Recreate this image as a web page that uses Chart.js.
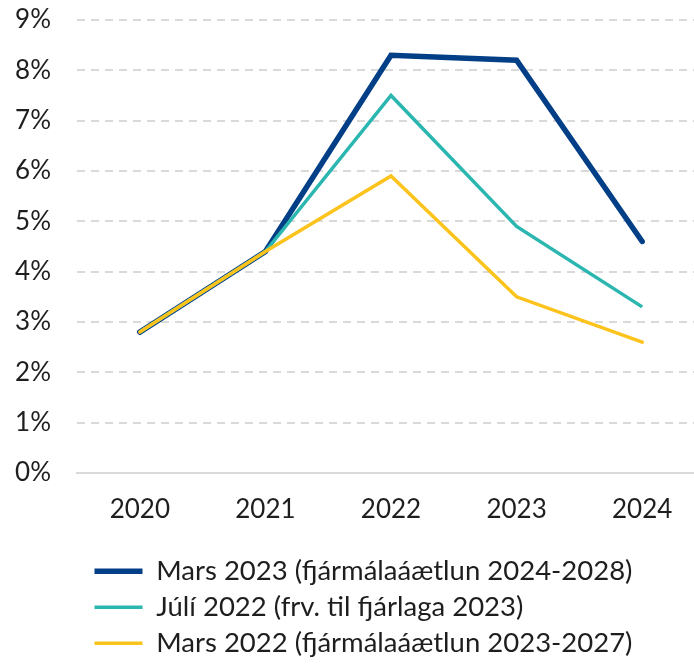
<!DOCTYPE html>
<html lang="is">
<head>
    <meta charset="UTF-8">
    <title>Verðbólguspár</title>
    <script src="https://cdn.jsdelivr.net/npm/chart.js"></script>
    <style>
        html, body {
            margin: 0;
            padding: 0;
            background: #fff;
            overflow: hidden;
        }
        #wrap {
            width: 705px;
            height: 664px;
        }
    </style>
</head>
<body>
    <div id="wrap">
        <canvas id="chart" width="705" height="664"></canvas>
    </div>
    <script>
        var years = ['2020', '2021', '2022', '2023', '2024'];
        var mars2023 = [2.8, 4.4, 8.3, 8.2, 4.6];
        var juli2022 = [2.8, 4.4, 7.5, 4.9, 3.3];
        var mars2022 = [2.8, 4.4, 5.9, 3.5, 2.6];
        var seriesNames = [
            'Mars 2023 (fjármálaáætlun 2024-2028)',
            'Júlí 2022 (frv. til fjárlaga 2023)',
            'Mars 2022 (fjármálaáætlun 2023-2027)'
        ];
        var yTicks = [0, 1, 2, 3, 4, 5, 6, 7, 8, 9];

        var fontFamily = 'Lato, "Open Sans", sans-serif';
        var textColor = '#1e1e1e';
        var gridColor = '#d9d9d9';

        // moves the legend block to where the original has it
        var legendShift = {
            id: 'legendShift',
            afterLayout: function (chart) {
                var lg = chart.legend;
                var h = lg.bottom - lg.top;
                lg.left = 86;
                lg.top += 3;
                lg.bottom = lg.top + h;
            }
        };

        var ctx = document.getElementById('chart').getContext('2d');
        var chart = new Chart(ctx, {
            type: 'line',
            data: {
                labels: years,
                datasets: [{
                    label: seriesNames[0],
                    data: mars2023,
                    borderColor: '#023f86',
                    backgroundColor: '#023f86',
                    borderWidth: 5.5,
                    borderCapStyle: 'round',
                    order: 3
                }, {
                    label: seriesNames[1],
                    data: juli2022,
                    borderColor: '#2bb6b0',
                    backgroundColor: '#2bb6b0',
                    borderWidth: 3.5,
                    order: 2
                }, {
                    label: seriesNames[2],
                    data: mars2022,
                    borderColor: '#fdc31d',
                    backgroundColor: '#fdc31d',
                    borderWidth: 3.5,
                    borderCapStyle: 'round',
                    order: 1
                }]
            },
            options: {
                responsive: false,
                animation: false,
                layout: {
                    padding: { left: 0, top: 20, right: 0, bottom: 0 }
                },
                elements: {
                    point: { radius: 0, hoverRadius: 0 },
                    line: { tension: 0 }
                },
                scales: {
                    x: {
                        offset: true,
                        grid: { display: false, drawTicks: false },
                        border: { display: true, color: gridColor, width: 2 },
                        ticks: {
                            color: textColor,
                            padding: 21,
                            font: { family: fontFamily, size: 26 }
                        },
                        afterFit: function (scale) {
                            scale.height = 73;
                        }
                    },
                    y: {
                        min: 0,
                        max: 9,
                        afterBuildTicks: function (scale) {
                            scale.ticks = yTicks.map(function (v) { return { value: v }; });
                        },
                        afterFit: function (scale) {
                            scale.width = 77;
                            scale.paddingTop = 0;
                            scale.paddingBottom = 0;
                        },
                        grid: {
                            color: gridColor,
                            lineWidth: 2,
                            drawTicks: false
                        },
                        border: { display: false, dash: [8, 6] },
                        ticks: {
                            color: textColor,
                            padding: 26,
                            font: { family: fontFamily, size: 26 },
                            callback: function (v) { return v + '%'; }
                        }
                    }
                },
                plugins: {
                    tooltip: { enabled: false },
                    legend: {
                        position: 'bottom',
                        align: 'start',
                        labels: {
                            usePointStyle: true,
                            pointStyle: 'line',
                            pointStyleWidth: 48,
                            padding: 8.5,
                            color: textColor,
                            font: { family: fontFamily, size: 27.5 },
                            sort: function (a, b) { return a.datasetIndex - b.datasetIndex; }
                        }
                    }
                }
            },
            plugins: [legendShift]
        });
    </script>
</body>
</html>
